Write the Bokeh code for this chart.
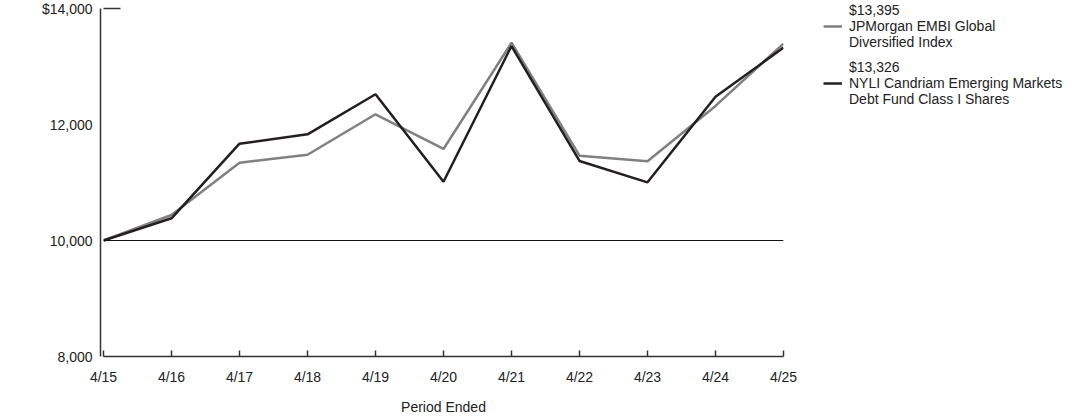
from bokeh.plotting import figure
from bokeh.models import (ColumnDataSource, LinearAxis, FixedTicker, NumeralTickFormatter,
                          Span, Legend, LegendItem, Range1d)
from bokeh.embed import file_html
from bokeh.resources import INLINE

# ---- data ----
periods = ["4/15", "4/16", "4/17", "4/18", "4/19", "4/20", "4/21", "4/22", "4/23", "4/24", "4/25"]
x_pos = list(range(len(periods)))
fund_values = [10000, 10383, 11669, 11831, 12521, 11014, 13353, 11371, 11003, 12479, 13326]
index_values = [10000, 10440, 11341, 11479, 12176, 11578, 13410, 11462, 11365, 12320, 13395]
y_ticks = [8000, 10000, 12000, 14000]
index_label = "$13,395\nJPMorgan EMBI Global\nDiversified Index"
fund_label = "$13,326\nNYLI Candriam Emerging Markets\nDebt Fund Class I Shares"
x_title = "Period Ended"

FONT = "Liberation Sans"
AXIS_COLOR = "#333333"
TEXT_COLOR = "#222222"
FS = "14px"

src = ColumnDataSource(dict(x=x_pos, fund=fund_values, index=index_values))

p = figure(frame_width=680, frame_height=348, output_backend="svg", toolbar_location=None,
           x_range=Range1d(0, len(periods) - 1), y_range=Range1d(8000, 14000),
           min_border_top=8, min_border_left=103, min_border_right=300, min_border_bottom=4,
           y_axis_location=None, outline_line_color=None, background_fill_color=None,
           border_fill_color="white")
p.grid.visible = False

# x axis
xa = p.xaxis[0]
xa.ticker = FixedTicker(ticks=x_pos)
xa.major_label_overrides = {i: lab for i, lab in zip(x_pos, periods)}
xa.major_tick_in = 6
xa.major_tick_out = 0
xa.minor_tick_line_color = None
xa.axis_line_color = AXIS_COLOR
xa.axis_line_width = 1.5
xa.major_tick_line_color = AXIS_COLOR
xa.major_tick_line_width = 1.5
xa.major_label_standoff = 12
xa.major_label_text_font = FONT
xa.major_label_text_font_size = FS
xa.major_label_text_color = TEXT_COLOR
xa.axis_label = x_title
xa.axis_label_text_font = FONT
xa.axis_label_text_font_size = FS
xa.axis_label_text_font_style = "normal"
xa.axis_label_text_color = TEXT_COLOR
xa.axis_label_standoff = 11

# y axes: inner tick-only axis and outer labelled axis
tick_axis = LinearAxis(ticker=FixedTicker(ticks=[14000]), major_tick_in=17, major_tick_out=0,
                       major_tick_line_color=AXIS_COLOR, major_tick_line_width=1.5,
                       minor_tick_line_color=None, axis_line_color=None,
                       major_label_overrides={14000: " "},
                       major_label_text_font_size="1px", major_label_standoff=0)
ya = LinearAxis(ticker=FixedTicker(ticks=y_ticks), formatter=NumeralTickFormatter(format="0,0"),
                major_label_overrides={14000: "$14,000"},
                major_tick_in=0, major_tick_out=0, minor_tick_line_color=None,
                axis_line_color=AXIS_COLOR, axis_line_width=1.5,
                major_label_standoff=8, major_label_text_font=FONT,
                major_label_text_font_size=FS, major_label_text_color=TEXT_COLOR)
p.add_layout(tick_axis, "left")
p.add_layout(ya, "left")

# reference line at 10,000
p.add_layout(Span(location=10000, dimension="width", line_color="#111111", line_width=1.2))

r_index = p.line("x", "index", source=src, line_color="#808080", line_width=2.5)
r_fund = p.line("x", "fund", source=src, line_color="#231f20", line_width=2.5)

legend = Legend(items=[LegendItem(label=index_label, renderers=[r_index]),
                       LegendItem(label=fund_label, renderers=[r_fund])],
                location=(40, 249), border_line_color=None, background_fill_alpha=0,
                label_text_font=FONT, label_text_font_size=FS, label_text_color=TEXT_COLOR,
                label_text_line_height=1.0, glyph_width=19, label_standoff=7,
                spacing=9, padding=0, margin=0)
p.add_layout(legend, "right")

open("out.html", "w").write(file_html(p, INLINE))
